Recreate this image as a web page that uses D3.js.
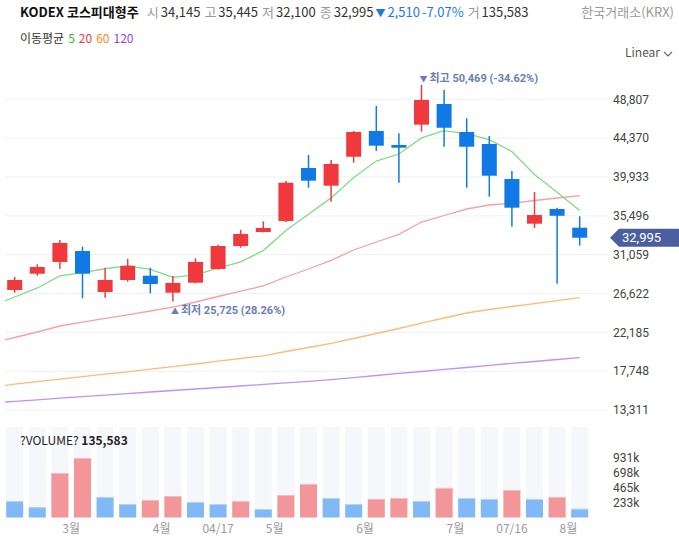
<!DOCTYPE html>
<html>
<head>
<meta charset="utf-8">
<script src="https://cdn.jsdelivr.net/npm/d3@7"></script>
<style>
  body { margin: 0; background: #fff; }
  svg { display: block; font-family: "Noto Sans CJK KR", "Noto Sans", sans-serif; }
  .num { font-family: Roboto, "Noto Sans CJK KR", sans-serif; }
</style>
</head>
<body>
<div id="chart"></div>
<script>
// weekly candles, oldest first
const opens  = [27030, 28890, 30230, 31480, 26800, 28170, 28660, 26720, 27860, 29430, 32050, 33650, 34910,
                40960, 38940, 42250, 45190, 43590, 45910, 48270, 45070, 43700, 39700, 34600, 36280, 34145];
const highs  = [28510, 29960, 32740, 31970, 29570, 30570, 29570, 28630, 30630, 32200, 33910, 34870, 39480,
                42450, 41870, 45190, 48040, 44920, 50469, 49870, 46640, 44620, 40620, 38220, 36430, 35445];
const lows   = [26720, 28660, 29460, 26080, 26150, 27980, 26650, 25725, 27790, 29350, 31860, 33620, 34790,
                38710, 37110, 41570, 42900, 39280, 45110, 43390, 38710, 37680, 34260, 34110, 27750, 32100];
const closes = [28170, 29650, 32400, 28890, 28170, 29800, 27710, 27830, 30230, 32050, 33420, 34110, 39280,
                39510, 41420, 45070, 43510, 43280, 48730, 45560, 43390, 40080, 36430, 35590, 35505, 32995];
const volumes = [258000, 160000, 696000, 931000, 321000, 211000, 274000, 336000, 243000, 211000, 258000, 133000, 352000,
                 524000, 305000, 211000, 290000, 305000, 258000, 462000, 305000, 290000, 430000, 290000, 321000, 135583];
const prevVolume = 300000; // week before the visible range

// moving averages, first value is the week before the visible range
const ma5   = [25200, 26230, 27260, 28630, 29000, 29456, 29782, 29394, 28480, 28748, 29524, 30248, 31528, 33818,
               35674, 37548, 39878, 41758, 42558, 44402, 45230, 44894, 44208, 42838, 40210, 38199, 36120];
const ma20  = [20970, 21602, 22230, 22916, 23350, 23783, 24195, 24629, 25063, 25657, 26285, 26890, 27507, 28512,
               29426, 30419, 31595, 32509, 33389, 34793, 35536, 36278, 36735, 36929, 37250, 37534, 37797];
const ma60  = [15983, 16268, 16554, 16840, 17125, 17411, 17685, 17982, 18279, 18576, 18896, 19204, 19512, 20003,
               20460, 20940, 21488, 22059, 22630, 23235, 23829, 24400, 24800, 25143, 25474, 25817, 26148];
const ma120 = [14133, 14315, 14487, 14669, 14852, 15023, 15195, 15378, 15549, 15720, 15892, 16063, 16246, 16417,
               16600, 16794, 17022, 17262, 17502, 17719, 17959, 18176, 18416, 18656, 18862, 19090, 19295];

const priceTicks = [13311, 17748, 22185, 26622, 31059, 35496, 39933, 44370, 48807];
const volTicks = [232750, 465500, 698250, 931000];
const volTickLabels = ["233k", "465k", "698k", "931k"];
const xTickLabels = ["3월", "4월", "04/17", "5월", "6월", "7월", "07/16", "8월"];
const xTickAt = [2.5, 6.5, 9, 11.5, 15.5, 19.5, 22, 24.5];

const W = 679, H = 553;
const UP = "#f0393d", DOWN = "#1079e6";
const fmt = d3.format(",");

const svg = d3.select("#chart").append("svg").attr("width", W).attr("height", H);

const x = d3.scaleLinear().domain([0, 25]).range([14.7, 579.7]);
const y = d3.scaleLinear().domain([13311, 48807]).range([410.1, 99.3]);
const yv = d3.scaleLinear().domain([0, 931000]).range([517.5, 458]);

const n = closes.length;
const idx = d3.range(n);

// header
const head = svg.append("text").attr("x", 20).attr("y", 17).attr("font-size", 13);
head.append("tspan").attr("font-weight", "bold").attr("fill", "#111").text("KODEX 코스피대형주");
const parts = [
  ["시", "#999", 8], ["34,145", "#333", 2], ["고", "#999", 4], ["35,445", "#333", 2],
  ["저", "#999", 4], ["32,100", "#333", 2], ["종", "#999", 4], ["32,995", "#333", 2],
  ["▼", "#1e78e6", 2], ["2,510", "#1e78e6", 2], ["-7.07%", "#1e78e6", 2],
  ["거", "#999", 4], ["135,583", "#333", 2]
];
parts.forEach(p => head.append("tspan").attr("dx", p[2]).attr("fill", p[1])
  .attr("font-size", p[0] === "▼" ? 10 : null).text(p[0]));
svg.append("text").attr("x", 674).attr("y", 17).attr("text-anchor", "end")
  .attr("font-size", 13).attr("fill", "#999").text("한국거래소(KRX)");

const leg = svg.append("text").attr("x", 20).attr("y", 43).attr("font-size", 12);
leg.append("tspan").attr("fill", "#333").text("이동평균");
[["5", "#2db92d"], ["20", "#f03c3c"], ["60", "#f68a1f"], ["120", "#8b45f0"]].forEach(d =>
  leg.append("tspan").attr("dx", 4).attr("fill", d[1]).text(d[0]));

svg.append("text").attr("x", 625).attr("y", 57).attr("font-size", 12).attr("fill", "#555").text("Linear");
svg.append("path").attr("d", "M664,52 l4,4 l4,-4").attr("fill", "none").attr("stroke", "#666").attr("stroke-width", 1.1);

// price grid
svg.append("g").selectAll("line").data(priceTicks).enter().append("line")
  .attr("x1", 5).attr("x2", 608)
  .attr("y1", d => y(d)).attr("y2", d => y(d))
  .attr("stroke", "#eef0f3").attr("stroke-width", 1);

svg.append("g").attr("class", "num").selectAll("text").data(priceTicks).enter().append("text")
  .attr("x", 613).attr("y", d => y(d)).attr("dy", "0.35em")
  .attr("font-size", 12).attr("fill", "#444")
  .text(d => fmt(d));

// moving average lines
svg.append("defs").append("clipPath").attr("id", "plot")
  .append("rect").attr("x", 5).attr("y", 60).attr("width", 603).attr("height", 360);

const maLine = d3.line().x((d, i) => x(i - 1)).y(d => y(d));
const mas = [[ma120, "#bd92f7"], [ma60, "#fcbb78"], [ma20, "#f7a0a3"], [ma5, "#85db7f"]];
svg.append("g").attr("clip-path", "url(#plot)").selectAll("path").data(mas).enter().append("path")
  .attr("d", d => maLine(d[0]))
  .attr("fill", "none").attr("stroke", d => d[1]).attr("stroke-width", 1.3);

// candles
const cw = 15;
const candles = svg.append("g").selectAll("g").data(idx).enter().append("g");
candles.append("line")
  .attr("x1", i => x(i)).attr("x2", i => x(i))
  .attr("y1", i => y(highs[i])).attr("y2", i => y(lows[i]))
  .attr("stroke", i => closes[i] >= opens[i] ? UP : DOWN).attr("stroke-width", 1.5);
candles.append("rect")
  .attr("x", i => x(i) - cw / 2).attr("width", cw)
  .attr("y", i => y(Math.max(opens[i], closes[i])))
  .attr("height", i => Math.max(2, Math.abs(y(opens[i]) - y(closes[i]))))
  .attr("fill", i => closes[i] >= opens[i] ? UP : DOWN);

// high / low markers
const hiI = d3.maxIndex(highs), loI = d3.minIndex(lows);
const last = closes[n - 1];
const pct = v => (v >= 0 ? "" : "-") + d3.format(".2%")(Math.abs(v));
function marker(i, yy, tri, label, val) {
  const t = svg.append("text").attr("class", "num").attr("x", x(i) - 2).attr("y", yy)
    .attr("font-size", 11).attr("font-weight", "bold").attr("fill", "#6a7db5");
  t.append("tspan").attr("font-size", 8).text(tri);
  t.append("tspan").attr("dx", 2).text(label + " " + fmt(val) + " (" + pct(last / val - 1) + ")");
}
marker(hiI, y(highs[hiI]) - 3, "▼", "최고", highs[hiI]);
marker(loI, y(lows[loI]) + 13, "▲", "최저", lows[loI]);

// last price tag
const ly = y(last);
svg.append("path")
  .attr("d", `M610,${ly} L619,${ly - 9} L679,${ly - 9} L679,${ly + 9} L619,${ly + 9} Z`)
  .attr("fill", "#4b5f9e");
svg.append("text").attr("class", "num").attr("x", 622).attr("y", ly).attr("dy", "0.36em")
  .attr("font-size", 13).attr("fill", "#fff").text(fmt(last));

// volume panel
const bw = 17;
const volUp = i => volumes[i] > (i === 0 ? prevVolume : volumes[i - 1]);
svg.append("g").selectAll("rect").data(idx).enter().append("rect")
  .attr("x", i => x(i) - bw / 2).attr("width", bw)
  .attr("y", 427).attr("height", yv(0) - 427)
  .attr("fill", "#f5f7fb");
const vb = svg.append("g").selectAll("g").data(idx).enter().append("g");
vb.append("rect")
  .attr("x", i => x(i) - bw / 2).attr("width", bw)
  .attr("y", i => yv(volumes[i])).attr("height", i => yv(0) - yv(volumes[i]))
  .attr("fill", i => volUp(i) ? "#f29699" : "#80b9f6");
vb.append("rect")
  .attr("x", i => x(i) - bw / 2).attr("width", bw)
  .attr("y", i => yv(volumes[i])).attr("height", 1)
  .attr("fill", i => volUp(i) ? "#f7bcbe" : "#b3d5fa");

svg.append("g").attr("class", "num").selectAll("text").data(volTicks).enter().append("text")
  .attr("x", 613).attr("y", d => yv(d)).attr("dy", "0.35em")
  .attr("font-size", 12).attr("fill", "#444")
  .text((d, i) => volTickLabels[i]);

const vt = svg.append("text").attr("x", 20).attr("y", 445).attr("font-size", 12).attr("fill", "#222");
vt.append("tspan").text("?VOLUME? ");
vt.append("tspan").attr("font-weight", "bold").text(fmt(volumes[n - 1]));

// x axis labels
svg.append("g").selectAll("text").data(xTickAt).enter().append("text")
  .attr("x", d => x(d)).attr("y", 533).attr("text-anchor", "middle")
  .attr("font-size", 12).attr("fill", "#999")
  .text((d, i) => xTickLabels[i]);
</script>
</body>
</html>
